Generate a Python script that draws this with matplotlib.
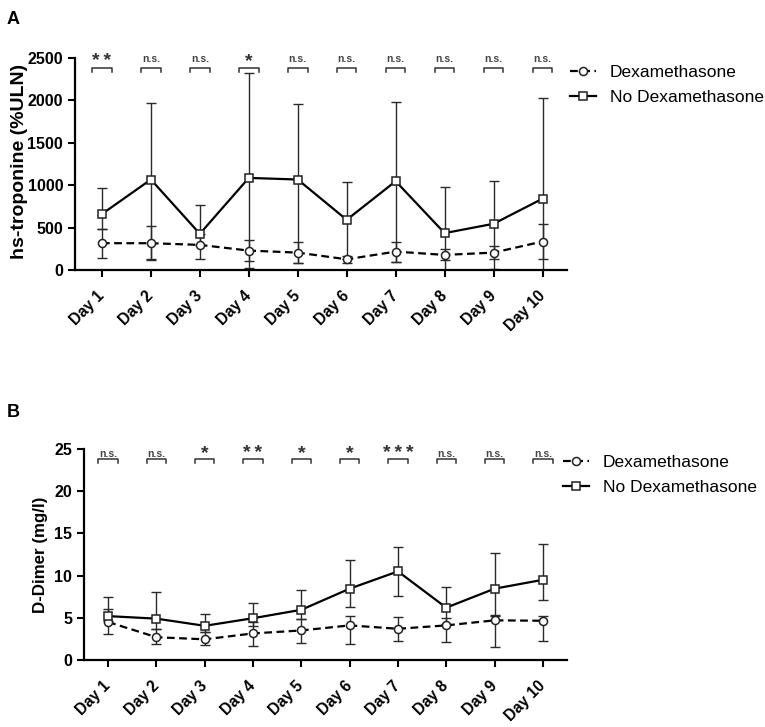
import matplotlib
matplotlib.use('Agg')
import matplotlib.pyplot as plt

plt.rcParams['font.family'] = ['Liberation Sans', 'DejaVu Sans']

days = [1, 2, 3, 4, 5, 6, 7, 8, 9, 10]
day_labels = [f"Day {d}" for d in days]

# panel A: hs-troponine (%ULN), median with range bars
nodex_a = [660, 1067, 427, 1086, 1067, 592, 1047, 435, 545, 841]
nodex_a_lo = [480, 130, 300, 20, 80, 126, 100, 0, 10, 0]
nodex_a_hi = [968, 1975, 762, 2319, 1955, 1035, 1983, 980, 1055, 2034]
dex_a = [316, 316, 296, 229, 205, 126, 217, 178, 205, 336]
dex_a_lo = [146, 118, 126, 111, 79, 85, 95, 118, 130, 134]
dex_a_hi = [482, 521, 430, 348, 332, 165, 332, 245, 284, 545]
sig_a = ['**', 'n.s.', 'n.s.', '*', 'n.s.', 'n.s.', 'n.s.', 'n.s.', 'n.s.', 'n.s.']

# panel B: D-Dimer (mg/l)
nodex_b = [5.2, 4.9, 4.05, 4.95, 5.95, 8.45, 10.5, 6.2, 8.45, 9.5]
nodex_b_lo = [4.6, 3.7, 3.3, 4.0, 4.9, 6.3, 7.6, 4.3, 5.2, 7.1]
nodex_b_hi = [7.5, 8.0, 5.4, 6.8, 8.3, 11.8, 13.35, 8.7, 12.7, 13.8]
dex_b = [4.5, 2.7, 2.45, 3.15, 3.5, 4.1, 3.7, 4.1, 4.7, 4.65]
dex_b_lo = [3.05, 1.9, 1.75, 1.7, 2.05, 1.95, 2.3, 2.1, 1.55, 2.25]
dex_b_hi = [6.1, 3.65, 3.35, 4.5, 4.9, 5.2, 5.1, 5.0, 5.3, 5.25]
sig_b = ['n.s.', 'n.s.', '*', '**', '*', '*', '***', 'n.s.', 'n.s.', 'n.s.']

W, H = 765, 727
fig = plt.figure(figsize=(W / 100, H / 100), dpi=100)


def panel(rect, xleft, ymax, ystep, ylabel, ylabel_size, nodex, nlo, nhi,
          dex, dlo, dhi, sig, brk, label_xy, legend_xy, letter, letter_y):
    ax = fig.add_axes(rect)
    for vals, lo, hi in [(nodex, nlo, nhi), (dex, dlo, dhi)]:
        yerr = [[v - l for v, l in zip(vals, lo)], [h - v for v, h in zip(vals, hi)]]
        ax.errorbar(days, vals, yerr=yerr, fmt='none', ecolor='#2a2a2a',
                    elinewidth=1.0, capsize=3.5, capthick=1.0, zorder=2)
    ax.plot(days, nodex, color='black', lw=1.6, marker='s', ms=5.8,
            mfc='white', mec='#222222', mew=1.1, zorder=4, label='No Dexamethasone')
    ax.plot(days, dex, color='black', lw=1.6, ls=(0, (3.5, 2)), marker='o', ms=5.8,
            mfc='white', mec='#222222', mew=1.1, zorder=3, label='Dexamethasone')

    # significance brackets
    by, bleg, ty_ns, ty_star = brk
    for d, s in zip(days, sig):
        ax.plot([d - 0.2, d - 0.2, d + 0.2, d + 0.2], [bleg, by, by, bleg],
                color='#333333', lw=1.1, clip_on=False)
        if s == 'n.s.':
            ax.text(d, ty_ns, s, ha='center', va='baseline', fontsize=7.5,
                    fontweight='bold', color='#444444')
        else:
            ax.text(d, ty_star, '\u2009'.join(s), ha='center', va='baseline',
                    fontsize=14, fontweight='bold', color='#333333')

    ax.set_xlim(xleft, 10.5)
    ax.set_ylim(0, ymax)
    ax.set_yticks(range(0, ymax + 1, ystep))
    ax.set_xticks(days)
    ax.set_xticklabels(day_labels, rotation=45, ha='right', va='center',
                       rotation_mode='anchor')
    for sp in ['top', 'right']:
        ax.spines[sp].set_visible(False)
    for sp in ['left', 'bottom']:
        ax.spines[sp].set_linewidth(1.6)
    ax.tick_params(direction='out', length=5, width=1.5, labelsize=11.5)
    ax.tick_params(axis='x', labelsize=11.2, pad=12)
    for t in ax.get_xticklabels() + ax.get_yticklabels():
        t.set_fontweight('bold')
    ax.set_ylabel(ylabel, fontsize=ylabel_size, fontweight='bold')
    ax.yaxis.set_label_coords(*label_xy)

    h = ax.get_legend_handles_labels()[0]
    ax.legend([h[1], h[0]], ['Dexamethasone', 'No Dexamethasone'], loc='upper left',
              bbox_to_anchor=legend_xy, bbox_transform=fig.transFigure, frameon=False,
              fontsize=12.5, handlelength=1.5, handletextpad=0.8, borderpad=0,
              borderaxespad=0, labelspacing=0.55)
    fig.text(7 / W, 1 - letter_y / H, letter, fontsize=13, fontweight='bold',
             va='center', ha='left')
    return ax


ax_a = panel([75 / W, 1 - 270 / H, 492 / W, 212 / H], 0.45, 2500, 500,
             'hs-troponine (%ULN)', 14, nodex_a, nodex_a_lo, nodex_a_hi,
             dex_a, dex_a_lo, dex_a_hi, sig_a, (2378, 2330, 2450, 2410),
             (-0.0955, 0.51), (570 / W, 1 - 65 / H), 'A', 20)

ax_b = panel([84 / W, 1 - 660 / H, 483 / W, 211 / H], 0.5, 25, 5,
             'D-Dimer (mg/l)', 12.2, nodex_b, nodex_b_lo, nodex_b_hi,
             dex_b, dex_b_lo, dex_b_hi, sig_b, (23.78, 23.3, 24.1, 23.95),
             (-0.0745, 0.50), (563 / W, 1 - 455 / H), 'B', 412)

fig.savefig('out.png', dpi=100)
